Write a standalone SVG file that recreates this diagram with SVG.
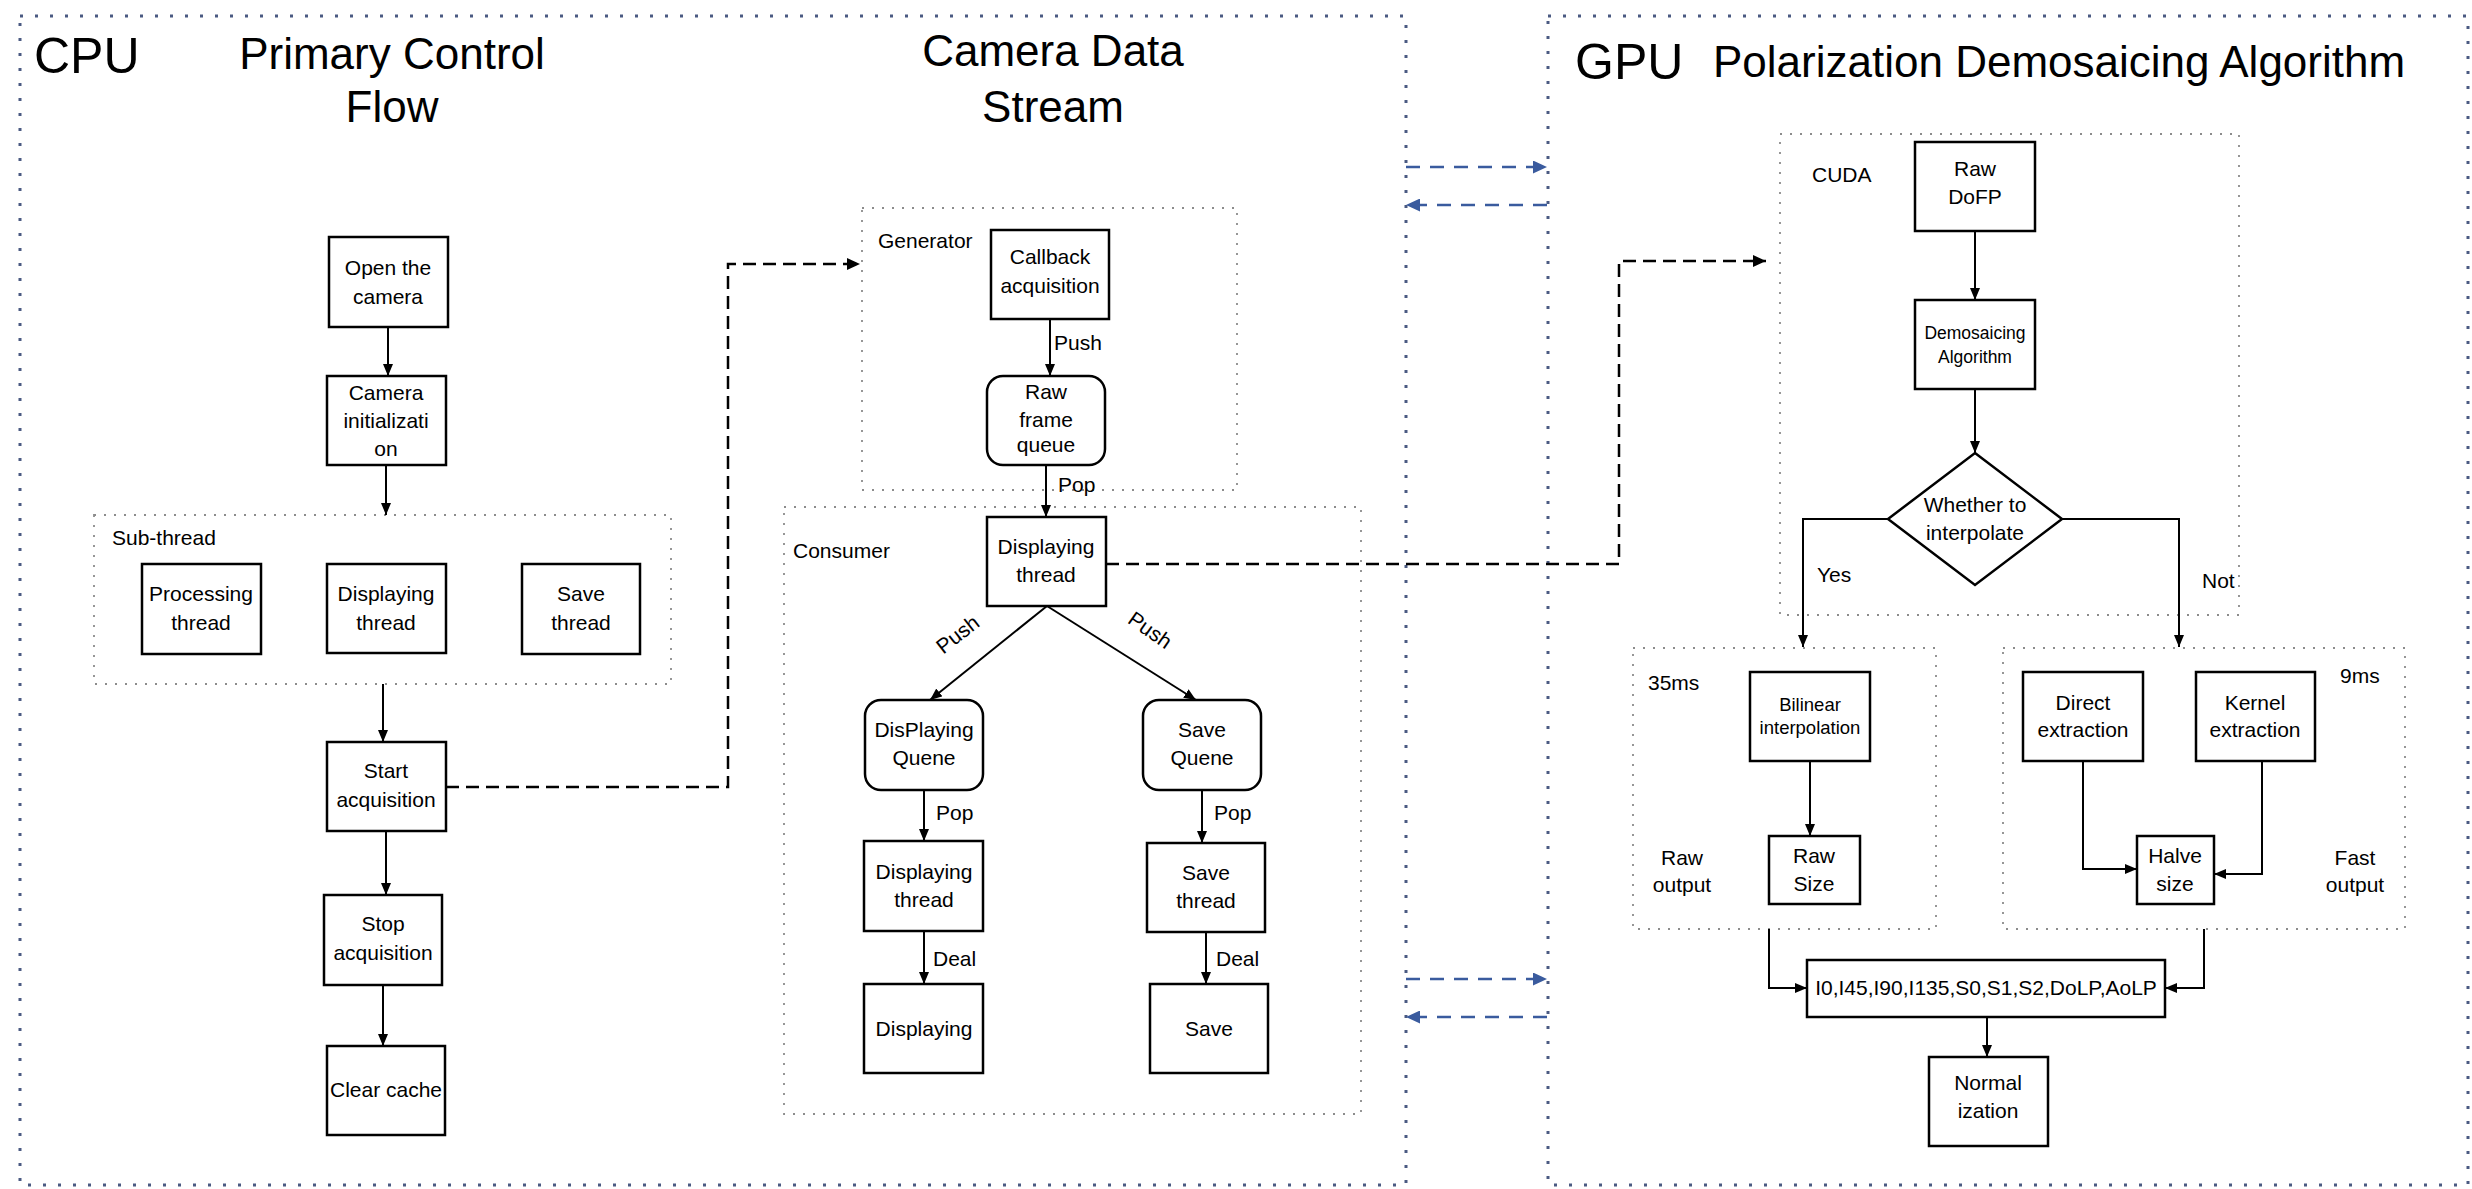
<svg xmlns="http://www.w3.org/2000/svg" width="2472" height="1189" viewBox="0 0 2472 1189">
<defs>
<style>
.t{font-family:"Liberation Sans",Arial,sans-serif;font-size:21px;fill:#000;text-anchor:middle}
.l{font-family:"Liberation Sans",Arial,sans-serif;font-size:21px;fill:#000}
.h{font-family:"Liberation Sans",Arial,sans-serif;font-size:44px;fill:#000}
.big{font-family:"Liberation Sans",Arial,sans-serif;font-size:50px;fill:#000}
.box{fill:#fff;stroke:#000;stroke-width:2.5}
.outer{fill:none;stroke:#4A5A82;stroke-width:3;stroke-dasharray:3 12}
.grp{fill:none;stroke:#8c8c8c;stroke-width:1.8;stroke-dasharray:2 8}
.c{fill:none;stroke:#000;stroke-width:2}
.d{fill:none;stroke:#000;stroke-width:2.5;stroke-dasharray:13 7}
.b{fill:none;stroke:#3A5B9E;stroke-width:2.5;stroke-dasharray:14 10}
</style>
<marker id="ah" viewBox="0 0 12 10" refX="12" refY="5" markerWidth="12" markerHeight="10" orient="auto" markerUnits="userSpaceOnUse"><path d="M0,0 L12,5 L0,10 z" fill="#000"/></marker>
<marker id="ahd" viewBox="0 0 13 12" refX="13" refY="6" markerWidth="13" markerHeight="12" orient="auto" markerUnits="userSpaceOnUse"><path d="M0,0 L13,6 L0,12 z" fill="#000"/></marker>
<marker id="ahb" viewBox="0 0 14 13" refX="14" refY="6.5" markerWidth="14" markerHeight="13" orient="auto" markerUnits="userSpaceOnUse"><path d="M0,0 L14,6.5 L0,13 z" fill="#3A5B9E"/></marker>
</defs>
<rect width="2472" height="1189" fill="#fff"/>

<g id="cpu-frame">
<rect class="outer" x="20" y="16" width="1386" height="1169"/>
<text class="big" x="34" y="73">CPU</text>
<text class="h" x="392" y="69" text-anchor="middle">Primary Control</text>
<text class="h" x="392" y="122" text-anchor="middle">Flow</text>
<text class="h" x="1053" y="66" text-anchor="middle">Camera Data</text>
<text class="h" x="1053" y="122" text-anchor="middle">Stream</text>
</g>
<g id="gpu-frame">
<rect class="outer" x="1548" y="16" width="920" height="1169"/>
<text class="big" x="1575" y="79">GPU</text>
<text class="h" x="1713" y="77">Polarization Demosaicing Algorithm</text>
</g>

<g id="groups">
<g id="sub-thread"><rect class="grp" x="94" y="515" width="577" height="169"/><text class="l" x="112" y="545">Sub-thread</text></g>
<g id="generator"><rect class="grp" x="862" y="208" width="375" height="282"/><text class="l" x="878" y="248">Generator</text></g>
<g id="consumer"><rect class="grp" x="784" y="507" width="577" height="607"/><text class="l" x="793" y="558">Consumer</text></g>
<g id="cuda"><rect class="grp" x="1780" y="134" width="459" height="481"/><text class="l" x="1812" y="182">CUDA</text></g>
<g id="raw-group"><rect class="grp" x="1633" y="648" width="303" height="281"/><text class="l" x="1648" y="690">35ms</text><text class="t" x="1682" y="865">Raw</text><text class="t" x="1682" y="892">output</text></g>
<g id="fast-group"><rect class="grp" x="2003" y="648" width="402" height="281"/><text class="l" x="2340" y="683">9ms</text><text class="t" x="2355" y="865">Fast</text><text class="t" x="2355" y="892">output</text></g>
</g>

<g id="connectors">
<path class="c" d="M388,327 V376" marker-end="url(#ah)"/>
<path class="c" d="M386,465 V515" marker-end="url(#ah)"/>
<path class="c" d="M383,684 V742" marker-end="url(#ah)"/>
<path class="c" d="M386,831 V895" marker-end="url(#ah)"/>
<path class="c" d="M383,985 V1046" marker-end="url(#ah)"/>
<path class="d" d="M446,787 H728 V264 H860" marker-end="url(#ahd)"/>
<path class="c" d="M1050,319 V376" marker-end="url(#ah)"/>
<path class="c" d="M1046,465 V517" marker-end="url(#ah)"/>
<path class="c" d="M1047,606 L930,700" marker-end="url(#ah)"/>
<path class="c" d="M1047,606 L1196,700" marker-end="url(#ah)"/>
<path class="c" d="M924,790 V841" marker-end="url(#ah)"/>
<path class="c" d="M1202,790 V843" marker-end="url(#ah)"/>
<path class="c" d="M924,931 V984" marker-end="url(#ah)"/>
<path class="c" d="M1206,932 V984" marker-end="url(#ah)"/>
<path class="d" d="M1106,564 H1619 V261 H1766" marker-end="url(#ahd)"/>
<path class="b" d="M1406,167 H1547" marker-end="url(#ahb)"/>
<path class="b" d="M1547,205 H1406" marker-end="url(#ahb)"/>
<path class="b" d="M1406,979 H1547" marker-end="url(#ahb)"/>
<path class="b" d="M1547,1017 H1406" marker-end="url(#ahb)"/>
<path class="c" d="M1975,231 V300" marker-end="url(#ah)"/>
<path class="c" d="M1975,389 V453" marker-end="url(#ah)"/>
<path class="c" d="M1888,519 H1803 V647" marker-end="url(#ah)"/>
<path class="c" d="M2062,519 H2179 V647" marker-end="url(#ah)"/>
<path class="c" d="M1810,761 V836" marker-end="url(#ah)"/>
<path class="c" d="M2083,761 V869 H2137" marker-end="url(#ah)"/>
<path class="c" d="M2262,761 V874 H2214" marker-end="url(#ah)"/>
<path class="c" d="M1769,929 V988 H1807" marker-end="url(#ah)"/>
<path class="c" d="M2204,929 V988 H2165" marker-end="url(#ah)"/>
<path class="c" d="M1987,1017 V1057" marker-end="url(#ah)"/>
<text class="l" x="1054" y="350">Push</text>
<text class="l" x="1058" y="492">Pop</text>
<text class="t" transform="translate(962,640) rotate(-38)">Push</text>
<text class="t" transform="translate(1146,636) rotate(35)">Push</text>
<text class="l" x="936" y="820">Pop</text>
<text class="l" x="1214" y="820">Pop</text>
<text class="l" x="933" y="966">Deal</text>
<text class="l" x="1216" y="966">Deal</text>
<text class="l" x="1817" y="582">Yes</text>
<text class="l" x="2202" y="588">Not</text>
</g>

<g id="open-camera"><rect class="box" x="329" y="237" width="119" height="90"/><text class="t" x="388" y="275">Open the</text><text class="t" x="388" y="304">camera</text></g>
<g id="camera-init"><rect class="box" x="327" y="376" width="119" height="89"/><text class="t" x="386" y="400">Camera</text><text class="t" x="386" y="428">initializati</text><text class="t" x="386" y="456">on</text></g>
<g id="processing-thread"><rect class="box" x="142" y="564" width="119" height="90"/><text class="t" x="201" y="601">Processing</text><text class="t" x="201" y="630">thread</text></g>
<g id="displaying-thread-sub"><rect class="box" x="327" y="564" width="119" height="89"/><text class="t" x="386" y="601">Displaying</text><text class="t" x="386" y="630">thread</text></g>
<g id="save-thread-sub"><rect class="box" x="522" y="564" width="118" height="90"/><text class="t" x="581" y="601">Save</text><text class="t" x="581" y="630">thread</text></g>
<g id="start-acquisition"><rect class="box" x="327" y="742" width="119" height="89"/><text class="t" x="386" y="778">Start</text><text class="t" x="386" y="807">acquisition</text></g>
<g id="stop-acquisition"><rect class="box" x="324" y="895" width="118" height="90"/><text class="t" x="383" y="931">Stop</text><text class="t" x="383" y="960">acquisition</text></g>
<g id="clear-cache"><rect class="box" x="327" y="1046" width="118" height="89"/><text class="t" x="386" y="1097">Clear cache</text></g>

<g id="callback-acquisition"><rect class="box" x="991" y="230" width="118" height="89"/><text class="t" x="1050" y="264">Callback</text><text class="t" x="1050" y="293">acquisition</text></g>
<g id="raw-frame-queue"><rect class="box" x="987" y="376" width="118" height="89" rx="16"/><text class="t" x="1046" y="399">Raw</text><text class="t" x="1046" y="427">frame</text><text class="t" x="1046" y="452">queue</text></g>
<g id="displaying-thread-main"><rect class="box" x="987" y="517" width="119" height="89"/><text class="t" x="1046" y="554">Displaying</text><text class="t" x="1046" y="582">thread</text></g>
<g id="displaying-queue"><rect class="box" x="865" y="700" width="118" height="90" rx="16"/><text class="t" x="924" y="737">DisPlaying</text><text class="t" x="924" y="765">Quene</text></g>
<g id="save-queue"><rect class="box" x="1143" y="700" width="118" height="90" rx="16"/><text class="t" x="1202" y="737">Save</text><text class="t" x="1202" y="765">Quene</text></g>
<g id="displaying-thread-2"><rect class="box" x="864" y="841" width="119" height="90"/><text class="t" x="924" y="879">Displaying</text><text class="t" x="924" y="907">thread</text></g>
<g id="save-thread-2"><rect class="box" x="1147" y="843" width="118" height="89"/><text class="t" x="1206" y="880">Save</text><text class="t" x="1206" y="908">thread</text></g>
<g id="displaying"><rect class="box" x="864" y="984" width="119" height="89"/><text class="t" x="924" y="1036">Displaying</text></g>
<g id="save"><rect class="box" x="1150" y="984" width="118" height="89"/><text class="t" x="1209" y="1036">Save</text></g>

<g id="raw-dofp"><rect class="box" x="1915" y="142" width="120" height="89"/><text class="t" x="1975" y="176">Raw</text><text class="t" x="1975" y="204">DoFP</text></g>
<g id="demosaicing"><rect class="box" x="1915" y="300" width="120" height="89"/><text class="t" x="1975" y="339" style="font-size:17.5px">Demosaicing</text><text class="t" x="1975" y="363" style="font-size:17.5px">Algorithm</text></g>
<g id="decision"><polygon class="box" points="1975,453 2062,519 1975,585 1888,519"/><text class="t" x="1975" y="512">Whether to</text><text class="t" x="1975" y="540">interpolate</text></g>
<g id="bilinear"><rect class="box" x="1750" y="672" width="120" height="89"/><text class="t" x="1810" y="711" style="font-size:18.5px">Bilinear</text><text class="t" x="1810" y="734" style="font-size:18.5px">interpolation</text></g>
<g id="raw-size"><rect class="box" x="1769" y="836" width="91" height="68"/><text class="t" x="1814" y="863">Raw</text><text class="t" x="1814" y="891">Size</text></g>
<g id="direct-extraction"><rect class="box" x="2023" y="672" width="120" height="89"/><text class="t" x="2083" y="710">Direct</text><text class="t" x="2083" y="737">extraction</text></g>
<g id="kernel-extraction"><rect class="box" x="2196" y="672" width="119" height="89"/><text class="t" x="2255" y="710">Kernel</text><text class="t" x="2255" y="737">extraction</text></g>
<g id="halve-size"><rect class="box" x="2137" y="836" width="77" height="68"/><text class="t" x="2175" y="863">Halve</text><text class="t" x="2175" y="891">size</text></g>
<g id="outputs"><rect class="box" x="1807" y="960" width="358" height="57"/><text class="t" x="1986" y="995">I0,I45,I90,I135,S0,S1,S2,DoLP,AoLP</text></g>
<g id="normalization"><rect class="box" x="1929" y="1057" width="119" height="89"/><text class="t" x="1988" y="1090">Normal</text><text class="t" x="1988" y="1118">ization</text></g>
</svg>
